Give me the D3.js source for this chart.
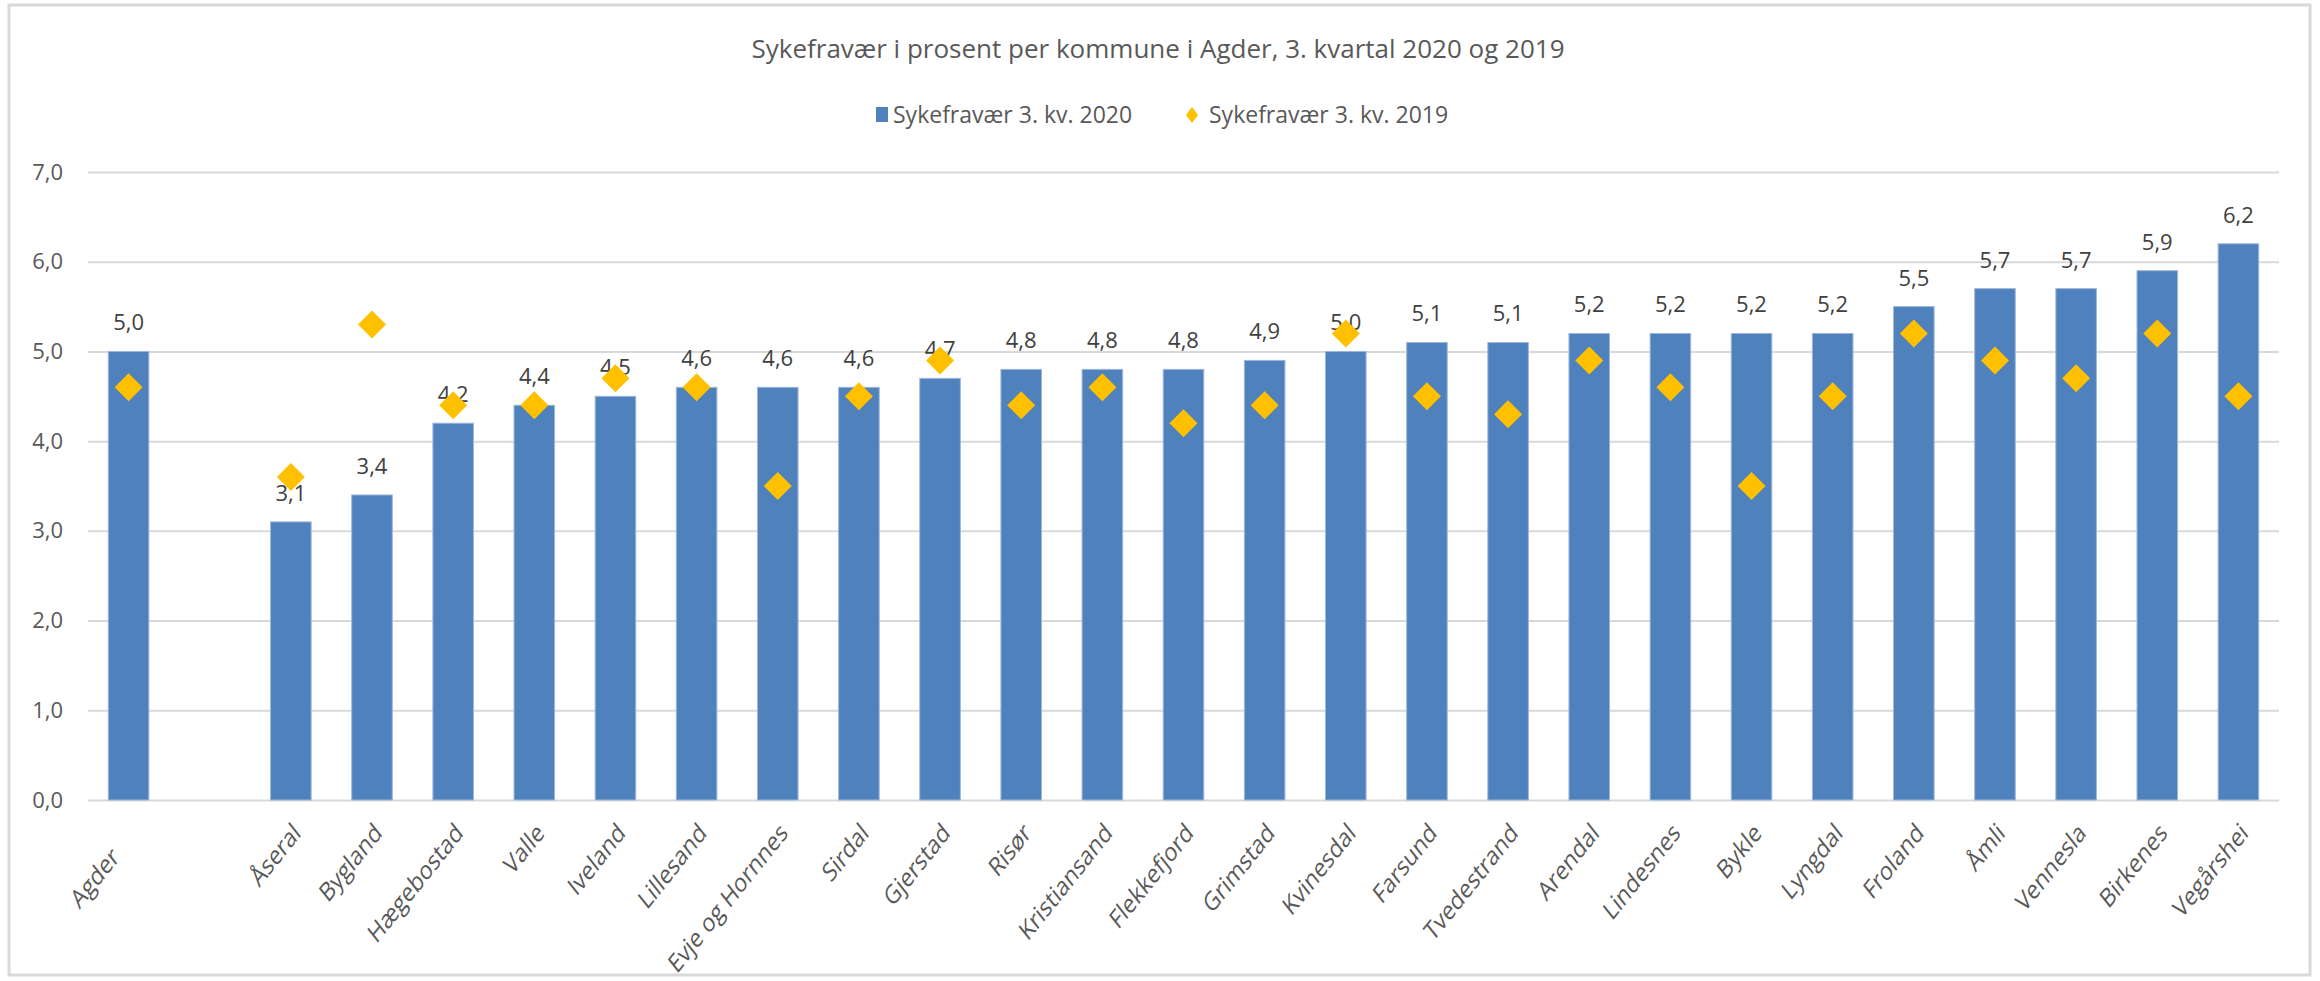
<!DOCTYPE html>
<html>
<head>
<meta charset="utf-8">
<script src="https://cdn.jsdelivr.net/npm/d3@7"></script>
<style>
  body { margin: 0; background: #fff; }
  svg text { font-family: "Open Sans", "Liberation Sans", sans-serif; }
</style>
</head>
<body>
<div id="plot"></div>
<script>
// kommuner, sortert etter 2020-verdi; tom plass etter Agder
var categories = ["Agder\u00a0\u00a0\u00a0\u00a0\u00a0", "", "Åseral", "Bygland", "Hægebostad", "Valle", "Iveland", "Lillesand",
  "Evje og Hornnes", "Sirdal", "Gjerstad", "Risør", "Kristiansand", "Flekkefjord", "Grimstad",
  "Kvinesdal", "Farsund", "Tvedestrand", "Arendal", "Lindesnes", "Bykle", "Lyngdal", "Froland",
  "Åmli", "Vennesla", "Birkenes", "Vegårshei"];

var values2020 = [5.0, null, 3.1, 3.4, 4.2, 4.4, 4.5, 4.6, 4.6, 4.6, 4.7, 4.8, 4.8, 4.8, 4.9,
  5.0, 5.1, 5.1, 5.2, 5.2, 5.2, 5.2, 5.5, 5.7, 5.7, 5.9, 6.2];

var values2019 = [4.6, null, 3.6, 5.3, 4.4, 4.4, 4.7, 4.6, 3.5, 4.5, 4.9, 4.4, 4.6, 4.2, 4.4,
  5.2, 4.5, 4.3, 4.9, 4.6, 3.5, 4.5, 5.2, 4.9, 4.7, 5.2, 4.5];

var yTicks = [0, 1, 2, 3, 4, 5, 6, 7];

var seriesNames = ["Sykefravær 3. kv. 2020", "Sykefravær 3. kv. 2019"];
var title = "Sykefravær i prosent per kommune i Agder, 3. kvartal 2020 og 2019";

var W = 2320, H = 981;
var margin = { top: 172, right: 41, bottom: 181, left: 88 },
  width = W - margin.left - margin.right,
  height = H - margin.top - margin.bottom;

var blue = "#4f81bd", gold = "#ffc000", grid = "#d9d9d9";

var fmt = function (v) { return d3.format(".1f")(v).replace(".", ","); };

var root = d3.select("#plot")
  .append("svg")
  .attr("width", W)
  .attr("height", H);

// chart frame
root.append("rect")
  .attr("x", 9).attr("y", 5)
  .attr("width", 2301).attr("height", 970)
  .attr("fill", "#fff")
  .attr("stroke", grid)
  .attr("stroke-width", 3);

root.append("text")
  .attr("x", 1158)
  .attr("y", 58)
  .attr("text-anchor", "middle")
  .style("font-size", "26px")
  .style("fill", "#595959")
  .text(title);

// legend
var lg = root.append("g");
lg.append("rect")
  .attr("x", 876).attr("y", 107)
  .attr("width", 12).attr("height", 15)
  .attr("fill", blue);
lg.append("text")
  .attr("x", 893).attr("y", 115)
  .attr("dy", "0.35em")
  .style("font-size", "23px")
  .style("fill", "#595959")
  .text(seriesNames[0]);
lg.append("path")
  .attr("transform", "translate(1192,115)")
  .attr("d", "M0,-8L6,0L0,8L-6,0Z")
  .attr("fill", gold);
lg.append("text")
  .attr("x", 1209).attr("y", 115)
  .attr("dy", "0.35em")
  .style("font-size", "23px")
  .style("fill", "#595959")
  .text(seriesNames[1]);

var svg = root.append("g")
  .attr("transform", `translate(${margin.left},${margin.top})`);

var idx = d3.range(categories.length);

var x = d3.scaleBand()
  .domain(idx)
  .range([0, width])
  .paddingInner(0.5)
  .paddingOuter(0.25);

var y = d3.scaleLinear()
  .domain([0, 7])
  .range([height, 0]);

// gridlines + y labels
var yAxis = svg.append("g")
  .call(d3.axisLeft(y).tickValues(yTicks).tickSize(-width).tickPadding(25).tickFormat(fmt));
yAxis.select(".domain").remove();
yAxis.selectAll("line")
  .attr("stroke", grid)
  .attr("stroke-width", 2);
yAxis.selectAll("text")
  .style("font-size", "22px")
  .style("font-family", "'Open Sans', 'Liberation Sans', sans-serif")
  .attr("fill", "#595959");

// bars
var rows = idx.filter(function (i) { return values2020[i] != null; });

svg.selectAll("rect.bar")
  .data(rows)
  .join("rect")
  .attr("class", "bar")
  .attr("x", d => x(d))
  .attr("y", d => y(values2020[d]))
  .attr("width", x.bandwidth())
  .attr("height", d => height - y(values2020[d]))
  .attr("fill", blue)
  .attr("stroke", "#9db8dc")
  .attr("stroke-width", 1);

// data labels
svg.selectAll("text.lbl")
  .data(rows)
  .join("text")
  .attr("class", "lbl")
  .attr("x", d => x(d) + x.bandwidth() / 2)
  .attr("y", d => y(values2020[d]) - 21)
  .attr("text-anchor", "middle")
  .style("font-size", "22px")
  .style("fill", "#404040")
  .text(d => fmt(values2020[d]));

// 2019 diamonds
svg.selectAll("path.pt")
  .data(rows)
  .join("path")
  .attr("class", "pt")
  .attr("transform", d => `translate(${x(d) + x.bandwidth() / 2},${y(values2019[d])})`)
  .attr("d", "M0,-14L14,0L0,14L-14,0Z")
  .attr("fill", gold);

// category labels (steeper, slightly sheared like the original)
var xAxis = svg.append("g")
  .attr("transform", `translate(0,${height})`)
  .call(d3.axisBottom(x).tickSize(0).tickFormat(i => categories[i]));
xAxis.select(".domain").remove();
xAxis.selectAll("text")
  .attr("text-anchor", "end")
  .attr("transform", "translate(6,28) scale(1,1.25) rotate(-45)")
  .attr("dy", "0.35em")
  .attr("y", 0)
  .style("white-space", "pre")
  .style("font-size", "21px")
  .style("font-family", "'Open Sans', 'Liberation Sans', sans-serif")
  .attr("fill", "#595959");
</script>
</body>
</html>
